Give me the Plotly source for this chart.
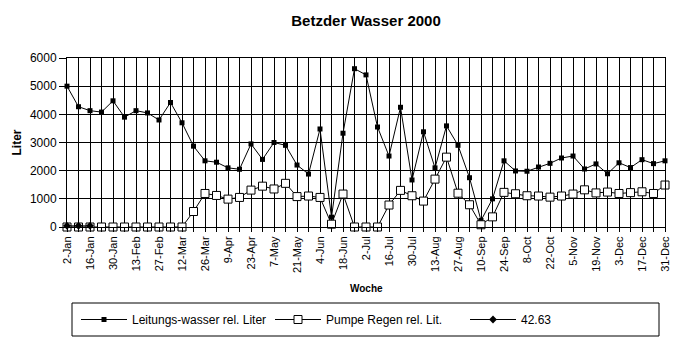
import plotly.graph_objects as go

weeks = ["2-Jan", "9-Jan", "16-Jan", "23-Jan", "30-Jan", "6-Feb", "13-Feb", "20-Feb", "27-Feb",
         "5-Mar", "12-Mar", "19-Mar", "26-Mar", "2-Apr", "9-Apr", "16-Apr", "23-Apr", "30-Apr",
         "7-May", "14-May", "21-May", "28-May", "4-Jun", "11-Jun", "18-Jun", "25-Jun", "2-Jul",
         "9-Jul", "16-Jul", "23-Jul", "30-Jul", "6-Aug", "13-Aug", "20-Aug", "27-Aug", "3-Sep",
         "10-Sep", "17-Sep", "24-Sep", "1-Oct", "8-Oct", "15-Oct", "22-Oct", "29-Oct", "5-Nov",
         "12-Nov", "19-Nov", "26-Nov", "3-Dec", "10-Dec", "17-Dec", "24-Dec", "31-Dec"]

leitung = [5000, 4270, 4130, 4080, 4480, 3900, 4130, 4050, 3800, 4420, 3700, 2870, 2350, 2300,
           2100, 2050, 2950, 2400, 3000, 2900, 2200, 1880, 3480, 350, 3330, 5620, 5400, 3550,
           2520, 4250, 1670, 3380, 2100, 3590, 2900, 1750, 230, 1000, 2350, 1990, 1980, 2130,
           2260, 2450, 2520, 2060, 2240, 1890, 2280, 2110, 2390, 2250, 2350]

pumpe = [0, 0, 0, 0, 0, 0, 0, 0, 0, 0, 0, 550, 1190, 1120, 990, 1050, 1310, 1450, 1350, 1550,
         1080, 1100, 1050, 100, 1170, 0, 0, 0, 780, 1300, 1110, 920, 1700, 2480, 1200, 790, 80,
         360, 1230, 1180, 1110, 1100, 1060, 1100, 1170, 1320, 1210, 1240, 1190, 1220, 1250, 1190,
         1490]

extra_x = [0, 1, 2]
extra = [40, 40, 40]

x_idx = list(range(len(weeks)))
tick_text = [w if i % 2 == 0 else "" for i, w in enumerate(weeks)]

FONT = "Liberation Sans, Arial, sans-serif"

fig = go.Figure()
fig.add_trace(go.Scatter(
    x=x_idx, y=leitung, name="Leitungs-wasser rel. Liter", mode="lines+markers",
    line=dict(color="black", width=1),
    marker=dict(symbol="square", size=5, color="black"),
    cliponaxis=False, legend="legend"))
fig.add_trace(go.Scatter(
    x=x_idx, y=pumpe, name="Pumpe Regen rel. Lit.", mode="lines+markers",
    line=dict(color="black", width=1),
    marker=dict(symbol="square", size=8, color="white", line=dict(color="black", width=1)),
    cliponaxis=False, legend="legend2"))
fig.add_trace(go.Scatter(
    x=extra_x, y=extra, name="42.63", mode="lines+markers",
    line=dict(color="black", width=1),
    marker=dict(symbol="diamond", size=6, color="black"),
    cliponaxis=False, legend="legend3"))

L, R, T, B = 67, 21, 58, 126
W, H = 686, 353
pw, ph = W - L - R, H - T - B

def px_x(px):
    return (px - L) / pw

def px_y(py):
    return (H - B - py) / ph

def leg(xpx):
    return dict(orientation="h", x=px_x(xpx), xanchor="left", y=px_y(319.5), yanchor="middle",
                font=dict(family=FONT, size=12), bgcolor="rgba(0,0,0,0)",
                borderwidth=0, itemwidth=46)

fig.update_layout(
    width=W, height=H,
    margin=dict(l=L, r=R, t=T, b=B),
    paper_bgcolor="white", plot_bgcolor="white",
    font=dict(family=FONT, color="black", size=12),
    title=dict(text="Betzder Wasser 2000", x=0.5, xref="paper", xanchor="center",
               y=1 - 20.5 / H, yref="container", yanchor="middle",
               font=dict(family=FONT, size=15, weight="bold", color="black")),
    showlegend=True,
    legend=leg(76), legend2=leg(270), legend3=leg(465),
    shapes=[dict(type="rect", xref="paper", yref="paper",
                 x0=px_x(72), x1=px_x(659), y0=px_y(336), y1=px_y(303),
                 line=dict(color="black", width=1), fillcolor="rgba(0,0,0,0)")],
    annotations=[
        dict(text="<b>Liter</b>", xref="paper", yref="paper", x=px_x(16), y=0.5,
             textangle=-90, showarrow=False, xanchor="center", yanchor="middle",
             font=dict(family=FONT, size=12)),
        dict(text="<b>Woche</b>", xref="paper", yref="paper", x=px_x(366), y=px_y(288),
             showarrow=False, xanchor="center", yanchor="middle",
             font=dict(family=FONT, size=10)),
    ],
)

fig.update_xaxes(
    range=[0, len(weeks) - 1], tickmode="array", tickvals=x_idx, ticktext=tick_text,
    tickangle=-90, tickfont=dict(family=FONT, size=11),
    ticks="outside", ticklen=4, tickcolor="black",
    showgrid=True, gridcolor="black", gridwidth=1,
    showline=True, linecolor="black", linewidth=1, mirror=True, zeroline=False)
fig.update_yaxes(
    range=[0, 6000], tickmode="linear", tick0=0, dtick=1000,
    tickfont=dict(family=FONT, size=12),
    ticks="outside", ticklen=7, tickcolor="black",
    showgrid=True, gridcolor="black", gridwidth=1,
    showline=True, linecolor="black", linewidth=1, mirror=True, zeroline=False)

fig.write_html("out.html")
